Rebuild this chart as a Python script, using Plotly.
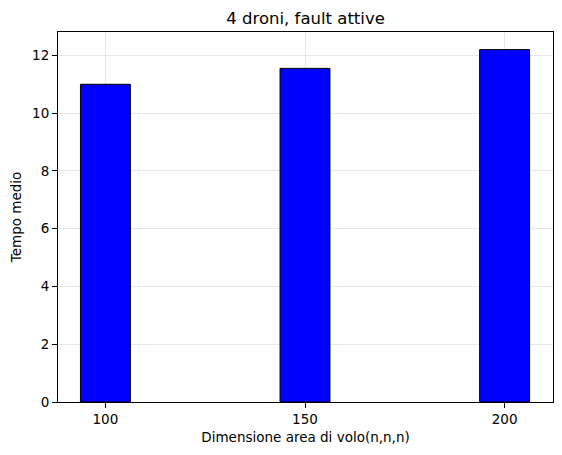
import plotly.graph_objects as go

dimensioni = [100, 150, 200]
tempo_medio = [11.0, 11.55, 12.2]

# the page puts the figure 8px in from the top-left corner, so margins compensate
OFF = 8

fig = go.Figure()
fig.add_trace(go.Bar(
    x=dimensioni, y=tempo_medio, width=12.5,
    marker=dict(color="#0000ff", line=dict(color="black", width=1)),
))

axis_common = dict(
    showline=True, linecolor="black", linewidth=1, mirror=True,
    ticks="outside", ticklen=5, tickcolor="black",
    showgrid=True, gridcolor="rgba(176,176,176,0.3)", gridwidth=1,
    zeroline=False, layer="above traces", automargin=False,
    tickfont=dict(family="DejaVu Sans", size=13.5, color="black"),
)

fig.update_xaxes(
    range=[88.125, 212.125], tickvals=dimensioni,
    title=dict(text="Dimensione area di volo(n,n,n)", standoff=6,
               font=dict(family="DejaVu Sans", size=13.5, color="black")),
    **axis_common,
)
fig.update_yaxes(
    range=[0, 12.81], tickvals=[0, 2, 4, 6, 8, 10, 12],
    title=dict(text="Tempo medio", standoff=8,
               font=dict(family="DejaVu Sans", size=13.5, color="black")),
    **axis_common,
)

fig.update_layout(
    width=562, height=455,
    margin=dict(l=58 - OFF, r=9 + OFF, t=32 - OFF, b=53 + OFF),
    paper_bgcolor="white", plot_bgcolor="white",
    title=dict(text="4 droni, fault attive", x=(305.6 - OFF) / 562, xanchor="center",
               y=1 - (18 - OFF) / 455, yanchor="middle",
               font=dict(family="DejaVu Sans", size=16.5, color="black")),
    showlegend=False,
    font=dict(family="DejaVu Sans", color="black"),
)

fig.write_html("out.html")
